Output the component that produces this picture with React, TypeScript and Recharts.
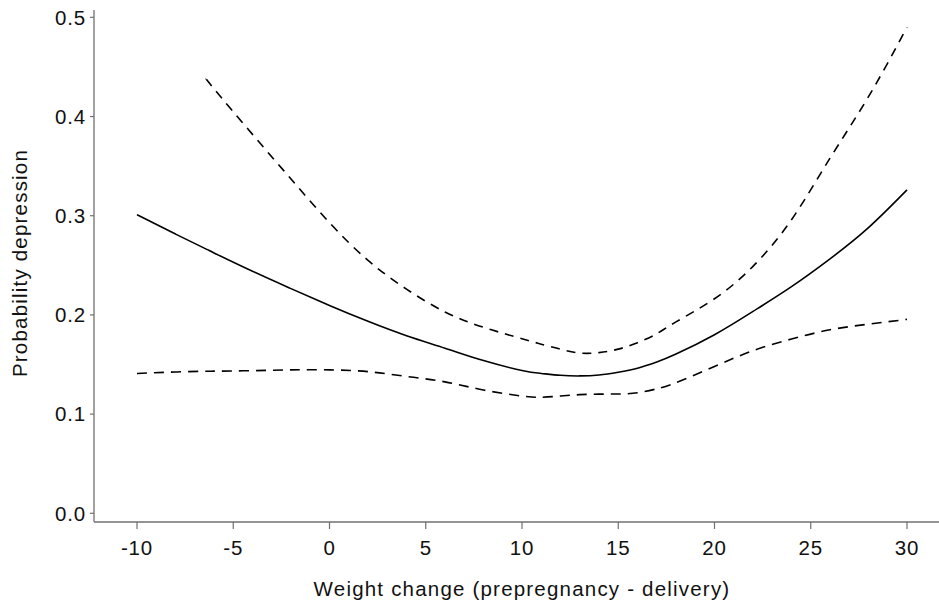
import React from "react";
import { LineChart, Line, XAxis, YAxis, Label } from "recharts";

const weightChange = [-10, -8, -6.4, -6, -4, -2, 0, 2, 4, 6, 8, 10, 11, 12, 13, 14, 15, 16, 17, 18, 20, 22, 24, 26, 28, 30];
const probFit = [0.301, 0.2815, 0.2663, 0.2625, 0.244, 0.2265, 0.2095, 0.1935, 0.179, 0.1665, 0.154, 0.144, 0.141, 0.1391, 0.1385, 0.1394, 0.1422, 0.1463, 0.1525, 0.1605, 0.18, 0.2035, 0.2285, 0.2565, 0.288, 0.326];
const probUpper = [null, null, 0.438, 0.428, 0.382, 0.337, 0.293, 0.255, 0.226, 0.203, 0.1875, 0.176, 0.1705, 0.1655, 0.1615, 0.162, 0.1655, 0.172, 0.181, 0.193, 0.2163, 0.249, 0.296, 0.358, 0.42, 0.49];
const probLower = [0.141, 0.1425, 0.1432, 0.1433, 0.1438, 0.1446, 0.1446, 0.1428, 0.138, 0.1325, 0.1243, 0.1182, 0.117, 0.1182, 0.1196, 0.1201, 0.1203, 0.1215, 0.1255, 0.1318, 0.148, 0.164, 0.1757, 0.185, 0.1907, 0.1955];

const xTicks = [-10, -5, 0, 5, 10, 15, 20, 25, 30];
const yTicks = [0, 0.1, 0.2, 0.3, 0.4, 0.5];
const xTitle = "Weight change (prepregnancy - delivery)";
const yTitle = "Probability depression";

const data = weightChange.map((x, i) => ({
  x,
  fit: probFit[i],
  upper: probUpper[i],
  lower: probLower[i],
}));

const FONT = "'Liberation Sans', Arial, Helvetica, sans-serif";
const AXIS_COLOR = "#707070";
const tickStyle = { fontFamily: FONT, fontSize: 20.5, fill: "#111", letterSpacing: 0.8 };

const XTitle = (props: any) => {
  const vb = props.viewBox || {};
  return (
    <text
      x={vb.x + vb.width / 2}
      y={vb.y + 74}
      textAnchor="middle"
      style={{ fontFamily: FONT, fontSize: 20.5, fill: "#111", letterSpacing: 1.2 }}
    >
      {xTitle}
    </text>
  );
};

const YTitle = (props: any) => {
  const vb = props.viewBox || {};
  const cx = vb.x + 27;
  const cy = vb.y + vb.height / 2 - 3;
  return (
    <text
      x={cx}
      y={cy}
      textAnchor="middle"
      transform={`rotate(-90 ${cx} ${cy})`}
      style={{ fontFamily: FONT, fontSize: 20.5, fill: "#111", letterSpacing: 1.2 }}
    >
      {yTitle}
    </text>
  );
};

export default function App() {
  return (
    <div style={{ position: "absolute", left: 0, top: 0, width: 939, height: 605, overflow: "hidden", background: "#fff" }}>
      <LineChart width={950} height={605} data={data} margin={{ top: 10, right: 0, bottom: 0, left: 0 }}>
        <XAxis
          dataKey="x"
          type="number"
          domain={[-12.234, 32.234]}
          ticks={xTicks}
          allowDataOverflow
          height={83}
          tickSize={7}
          tickMargin={11}
          tick={tickStyle}
          axisLine={{ stroke: AXIS_COLOR, strokeWidth: 1.3 }}
          tickLine={{ stroke: AXIS_COLOR, strokeWidth: 1.2 }}
        >
          <Label content={<XTitle />} />
        </XAxis>
        <XAxis
          xAxisId="top"
          dataKey="x"
          type="number"
          orientation="top"
          domain={[-12.234, 32.234]}
          allowDataOverflow
          height={0}
          tick={false}
          tickLine={false}
          axisLine={{ stroke: AXIS_COLOR, strokeWidth: 1.3 }}
        />
        <YAxis
          type="number"
          domain={[-0.00877, 0.5074]}
          ticks={yTicks}
          allowDataOverflow
          width={94}
          tickSize={4}
          tickMargin={4}
          tick={tickStyle}
          tickFormatter={(v: number) => v.toFixed(1)}
          axisLine={{ stroke: AXIS_COLOR, strokeWidth: 1.3 }}
          tickLine={{ stroke: AXIS_COLOR, strokeWidth: 1.2 }}
        >
          <Label content={<YTitle />} />
        </YAxis>
        <Line dataKey="upper" type="natural" stroke="#000" strokeWidth={1.6} strokeDasharray="9 7" dot={false} activeDot={false} isAnimationActive={false} connectNulls={false} />
        <Line dataKey="fit" type="natural" stroke="#000" strokeWidth={1.6} dot={false} activeDot={false} isAnimationActive={false} />
        <Line dataKey="lower" type="natural" stroke="#000" strokeWidth={1.6} strokeDasharray="10 7" dot={false} activeDot={false} isAnimationActive={false} />
      </LineChart>
    </div>
  );
}
